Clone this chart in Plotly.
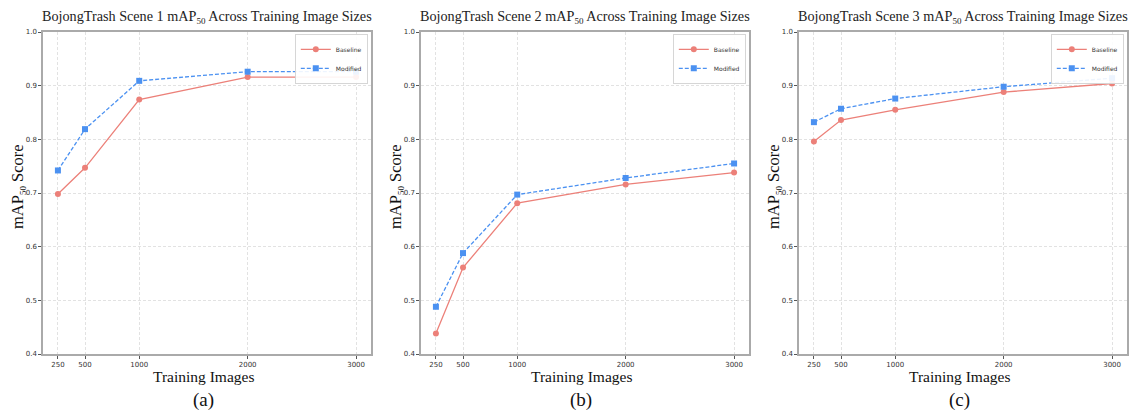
import plotly.graph_objects as go

W, H = 1129, 412

x_images = [250, 500, 1000, 2000, 3000]
x_tick_labels = ["250", "500", "1000", "2000", "3000"]
y_ticks = [0.4, 0.5, 0.6, 0.7, 0.8, 0.9, 1.0]

scene1_baseline = [0.698, 0.747, 0.874, 0.916, 0.916]
scene1_modified = [0.742, 0.819, 0.909, 0.926, 0.926]
scene2_baseline = [0.438, 0.561, 0.681, 0.716, 0.738]
scene2_modified = [0.488, 0.588, 0.697, 0.728, 0.755]
scene3_baseline = [0.796, 0.836, 0.855, 0.888, 0.904]
scene3_modified = [0.832, 0.857, 0.876, 0.898, 0.914]

SUB50 = '<sub><span style="font-size:9px">50</span></sub>'
titles = [f"BojongTrash Scene 1 mAP{SUB50} Across Training Image Sizes",
          f"BojongTrash Scene 2 mAP{SUB50} Across Training Image Sizes",
          f"BojongTrash Scene 3 mAP{SUB50} Across Training Image Sizes"]
panel_labels = ["(a)", "(b)", "(c)"]
series_names = ["Baseline", "Modified"]
x_title = "Training Images"
y_title = f"mAP{SUB50} Score"

BASE_C = "#EC8079"
MOD_C = "#4B91F1"
SERIF = "Liberation Serif"
SANS = "DejaVu Sans"

panels_px = [(43, 371), (421, 749), (799, 1127)]
top_px, bot_px = 32, 354
ydom = [1 - bot_px / H, 1 - top_px / H]

data = [(scene1_baseline, scene1_modified),
        (scene2_baseline, scene2_modified),
        (scene3_baseline, scene3_modified)]

fig = go.Figure()
annotations = []
layout = {}
for i, ((b, m), (x0, x1)) in enumerate(zip(data, panels_px)):
    n = "" if i == 0 else str(i + 1)
    lg = "legend" if i == 0 else f"legend{i+1}"
    fig.add_trace(go.Scatter(x=x_images, y=b, name=series_names[0], mode="lines+markers",
                             line=dict(color=BASE_C, width=1.3),
                             marker=dict(symbol="circle", size=6, color=BASE_C),
                             xaxis="x" + n, yaxis="y" + n, legend=lg))
    fig.add_trace(go.Scatter(x=x_images, y=m, name=series_names[1], mode="lines+markers",
                             line=dict(color=MOD_C, width=1.3, dash="4px,2px"),
                             marker=dict(symbol="square", size=6, color=MOD_C),
                             xaxis="x" + n, yaxis="y" + n, legend=lg))
    xd = [x0 / W, x1 / W]
    common = dict(
        automargin=False, ticks="outside", ticklen=3, tickcolor="#555", tickwidth=0.8,
        tickfont=dict(family=SANS, size=7, color="#333"),
        showline=True, mirror=True, linecolor="#AAAAAA", linewidth=1.5,
        showgrid=True, gridcolor="#E2E2E2", griddash="3px,2px", gridwidth=0.7,
        zeroline=False,
    )
    layout["xaxis" + n] = dict(domain=xd, anchor="y" + n, range=[112.5, 3137.5],
                               tickvals=x_images, ticktext=x_tick_labels, **common)
    layout["yaxis" + n] = dict(domain=ydom, anchor="x" + n, range=[0.4, 1.0],
                               tickvals=y_ticks, tickformat=".1f", **common)
    layout[lg] = dict(
        x=xd[1] - 3 / W, y=ydom[1] - 2 / H, xanchor="right", yanchor="top",
        bgcolor="rgba(255,255,255,0.9)", bordercolor="#CCCCCC", borderwidth=0.8,
        font=dict(family=SANS, size=6, color="#333"),
        itemwidth=30, tracegroupgap=0,
    )
    cx = (x0 + x1) / 2 / W
    annotations.append(dict(text=titles[i], x=cx, y=1 - 17 / H, xref="paper", yref="paper",
                            xanchor="center", yanchor="middle", showarrow=False,
                            font=dict(family=SERIF, size=14.2, color="#222")))
    annotations.append(dict(text=x_title, x=cx - 4 / W, y=1 - 376 / H, xref="paper", yref="paper",
                            xanchor="center", yanchor="middle", showarrow=False,
                            font=dict(family=SERIF, size=15.5, color="#111")))
    annotations.append(dict(text=y_title, x=(x0 - 25) / W, y=1 - 187 / H, xref="paper", yref="paper",
                            xanchor="center", yanchor="middle", showarrow=False, textangle=-90,
                            font=dict(family=SERIF, size=16.5, color="#111")))
    annotations.append(dict(text=panel_labels[i], x=cx - 4 / W, y=1 - 400 / H, xref="paper", yref="paper",
                            xanchor="center", yanchor="middle", showarrow=False,
                            font=dict(family=SERIF, size=19, color="#111")))

fig.update_layout(
    template="none",
    width=W, height=H, margin=dict(l=0, r=0, t=0, b=0, autoexpand=False),
    paper_bgcolor="white", plot_bgcolor="white",
    annotations=annotations, showlegend=True, **layout,
)

fig.write_html("out.html", config={"displayModeBar": False},
               post_script="document.body.style.margin='0px';document.body.style.overflow='hidden';")
